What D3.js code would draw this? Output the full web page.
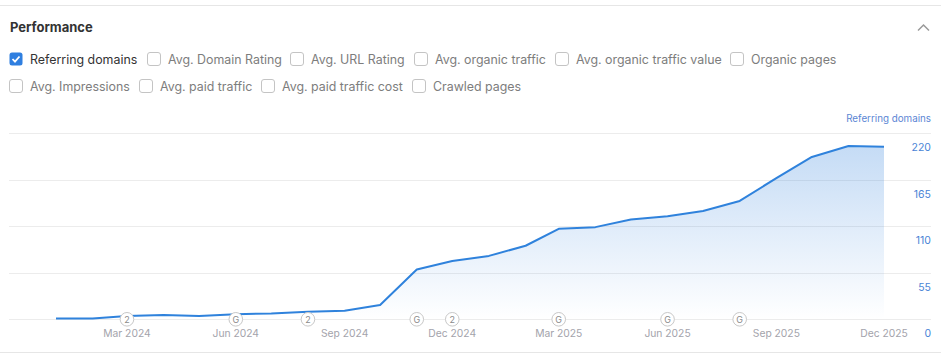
<!DOCTYPE html>
<html>
<head>
<meta charset="utf-8">
<script src="https://cdn.jsdelivr.net/npm/d3@7"></script>
<style>
  html, body { margin: 0; padding: 0; background: #fff; }
  svg { display: block; font-family: Inter, "Noto Sans", sans-serif; }
</style>
</head>
<body>
<script>
// ---- data ----
const months = ["2024-01","2024-02","2024-03","2024-04","2024-05","2024-06","2024-07","2024-08","2024-09","2024-10","2024-11","2024-12",
                "2025-01","2025-02","2025-03","2025-04","2025-05","2025-06","2025-07","2025-08","2025-09","2025-10","2025-11","2025-12"];
const referringDomains = [1, 1, 4, 5, 4, 6, 7, 9, 10, 17, 59, 69, 75, 87, 107, 109, 118, 122, 128, 140, 167, 192, 205, 204];
const yTicks = [0, 55, 110, 165, 220];
const xTickMonths = ["2024-03","2024-06","2024-09","2024-12","2025-03","2025-06","2025-09","2025-12"];
const annotationMonths = ["2024-03","2024-06","2024-08","2024-11","2024-12","2025-03","2025-06","2025-08"];
const annotationLabels = ["2","G","2","G","2","G","G","G"];
const metricsRow1 = ["Referring domains","Avg. Domain Rating","Avg. URL Rating","Avg. organic traffic","Avg. organic traffic value","Organic pages"];
const metricsRow2 = ["Avg. Impressions","Avg. paid traffic","Avg. paid traffic cost","Crawled pages"];
const checked = ["Referring domains"];

// ---- layout ----
const W = 941, H = 356;
const row1X = [9.5, 147.5, 290.5, 414.5, 555.5, 730.5];
const row2X = [9.5, 139.5, 261.5, 412.5];
const svg = d3.select("body").append("svg").attr("width", W).attr("height", H);
const parse = d3.timeParse("%Y-%m");

// borders
svg.append("line").attr("x1",0).attr("x2",W).attr("y1",5.5).attr("y2",5.5).attr("stroke","#e6e6e6");
svg.append("line").attr("x1",0).attr("x2",W).attr("y1",352.5).attr("y2",352.5).attr("stroke","#e6e6e6");

// title
svg.append("text").attr("x",10).attr("y",32).attr("font-size",13).attr("font-weight",700)
  .attr("fill","#333").text("Performance");
// chevron
svg.append("path").attr("d","M918 30.5 L923.5 25 L929 30.5").attr("fill","none")
  .attr("stroke","#9a9a9a").attr("stroke-width",1.5);

// checkbox rows
function drawRow(items, xs, y) {
  const g = svg.append("g");
  items.forEach((name, i) => {
    const x = xs[i];
    const isOn = checked.includes(name);
    if (isOn) {
      g.append("rect").attr("x",x).attr("y",y-6.5).attr("width",13).attr("height",13).attr("rx",2.5)
        .attr("fill","#2f7fe0");
      g.append("path").attr("d",`M${x+3} ${y} L${x+5.5} ${y+2.7} L${x+10} ${y-2.5}`)
        .attr("fill","none").attr("stroke","#fff").attr("stroke-width",1.8);
    } else {
      g.append("rect").attr("x",x).attr("y",y-6.5).attr("width",13).attr("height",13).attr("rx",2.5)
        .attr("fill","#fff").attr("stroke","#c4c4c4");
    }
    g.append("text").attr("x",x+20.5).attr("y",y+4.5).attr("font-size",12.4)
      .attr("fill", isOn ? "#333" : "#7d7d7d").text(name);
  });
}
drawRow(metricsRow1, row1X, 59);
drawRow(metricsRow2, row2X, 86);

// scales
const x = d3.scaleTime().domain([parse(months[0]), parse(months[months.length-1])]).range([56, 884]);
const y = d3.scaleLinear().domain([0, 220]).range([319.3, 133.3]);

// gridlines
svg.append("g").selectAll("line").data(yTicks).join("line")
  .attr("x1",9).attr("x2",931).attr("y1",d=>Math.round(y(d))+0.5).attr("y2",d=>Math.round(y(d))+0.5)
  .attr("stroke","#ececec");

// axis title
svg.append("text").attr("x",931).attr("y",122).attr("text-anchor","end").attr("font-size",9.8)
  .attr("fill","#5b86d4").text("Referring domains");

// y tick labels
svg.append("g").selectAll("text").data(yTicks).join("text")
  .attr("x",931).attr("y",d=>y(d)+18).attr("text-anchor","end").attr("font-size",10.5)
  .attr("fill","#4a84d6").text(d=>d);

// gradient
const defs = svg.append("defs");
const grad = defs.append("linearGradient").attr("id","fillGrad").attr("gradientUnits","userSpaceOnUse")
  .attr("x1",0).attr("x2",0).attr("y1",y(220)).attr("y2",y(0));
grad.append("stop").attr("offset","0%").attr("stop-color","#2f80dc").attr("stop-opacity",0.3);
grad.append("stop").attr("offset","100%").attr("stop-color","#2f80dc").attr("stop-opacity",0.0);

const data = months.map((m,i)=>({date: parse(m), value: referringDomains[i]}));
svg.append("path").datum(data)
  .attr("d", d3.area().x(d=>x(d.date)).y0(y(0)).y1(d=>y(d.value)))
  .attr("fill","url(#fillGrad)");
svg.append("path").datum(data)
  .attr("d", d3.line().x(d=>x(d.date)).y(d=>y(d.value)))
  .attr("fill","none").attr("stroke","#2f82dc").attr("stroke-width",2).attr("stroke-linejoin","round");

// x axis labels
const fmt = d3.timeFormat("%b %Y");
svg.append("g").selectAll("text").data(xTickMonths.map(parse)).join("text")
  .attr("x",d=>x(d)).attr("y",337).attr("text-anchor","middle").attr("font-size",10.3)
  .attr("fill","#a3a3ab").text(d=>fmt(d));

// annotation markers
const ann = svg.append("g").selectAll("g").data(annotationMonths.map((m,i)=>({date: parse(m), label: annotationLabels[i]})))
  .join("g").attr("transform", d=>`translate(${x(d.date)},${y(0)})`);
ann.append("circle").attr("r",6.8).attr("fill","#fff").attr("stroke","#c8c8c8").attr("stroke-width",1);
ann.append("text").attr("y",3.3).attr("text-anchor","middle").attr("font-size",9).attr("fill","#8a8a8a")
  .text(d=>d.label);
</script>
</body>
</html>
